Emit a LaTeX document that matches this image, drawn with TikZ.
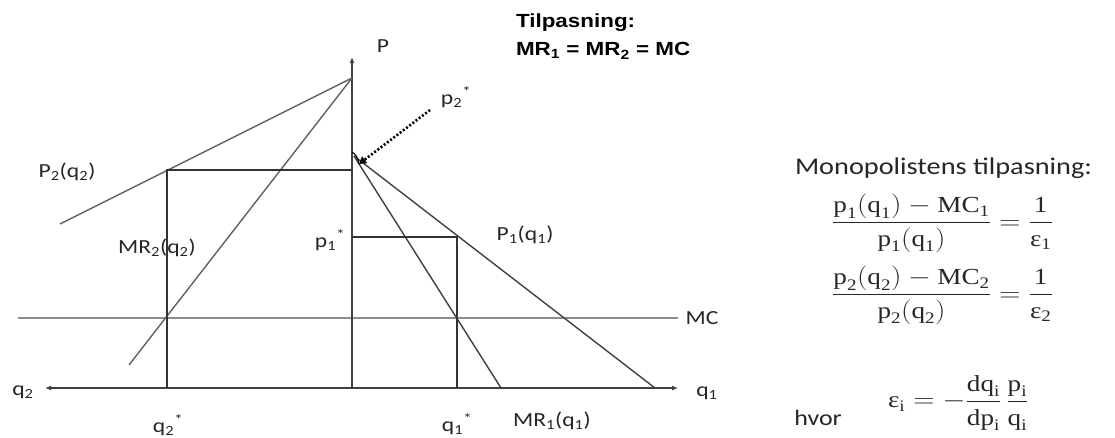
\documentclass[tikz,border=0pt]{standalone}
\usepackage{amsmath}
\usepackage{fontspec}
\setmainfont{Carlito}
\newfontfamily\arialfont{Liberation Sans}
\newfontfamily\tms{Liberation Serif}
\usetikzlibrary{arrows.meta}
\newcommand\hs[1]{\scalebox{1.18}[1]{#1}}
\newcommand\R[1]{\text{\tms #1}}
\begin{document}
\begin{tikzpicture}[x=1pt,y=-1pt,
  every node/.style={inner sep=0pt, outer sep=0pt},
  lab/.style={font=\fontsize{20}{22}\selectfont, text=black!85},
  axis/.style={line width=1.5pt, draw=black!75},
  curve/.style={line width=1.4pt, draw=black!62},
  guide/.style={line width=1.4pt, draw=black!80},
  mcline/.style={line width=2.8pt, draw=black!45},
  eq/.style={font=\fontsize{23}{26}\selectfont, text=black!85},
  tip/.style={-{Latex[length=6pt,width=5pt]}}]
\useasboundingbox (0,0) rectangle (1115,437);
% coordinates
\coordinate (O) at (352,388);
\coordinate (Ptop) at (352,57);
\coordinate (L) at (45,388);
\coordinate (R) at (678,388);
\coordinate (A) at (352,78);
\coordinate (P2end) at (60,224);
\coordinate (MR2end) at (129,365);
\coordinate (Q2) at (167,170);
\coordinate (Q2ax) at (167,388);
\coordinate (Pax2) at (352,170);
\coordinate (MCl) at (18,318);
\coordinate (MCr) at (678,318);
\coordinate (K) at (354,156);
\coordinate (P1end) at (655,388);
\coordinate (MR1end) at (501,388);
\coordinate (Q1) at (457,237);
\coordinate (Pax1) at (352,237);
\coordinate (Q1ax) at (457,388);
\coordinate (Dstart) at (430,110);
\coordinate (Dend) at (359,164);
\coordinate (H1) at (352,152);
% MC
\draw[mcline] (MCl) -- (MCr);
% axes
\draw[axis, tip] (O) -- (Ptop);
\draw[axis, {Latex[length=6pt,width=5pt]}-{Latex[length=6pt,width=5pt]}] (L) -- (R);
% market 2
\draw[curve] (A) -- (P2end);
\draw[curve] (A) -- (MR2end);
\draw[guide] (Pax2) -- (Q2) -- (Q2ax);
% market 1
\draw[curve, draw=black!75] (K) -- (P1end);
\draw[curve, draw=black!75] (K) -- (MR1end);
\draw[guide] (Pax1) -- (Q1) -- (Q1ax);
% p2* pointer
\draw[line width=1pt] (H1) .. controls (356,154) and (358,158) .. (Dend);
\draw[line width=2.6pt, dash pattern=on 2pt off 2pt, -{Triangle[length=7pt,width=8pt]}] (Dstart) -- (Dend);
% labels
\node[lab] (lP) at (383,46) {\hs{P}};
\node[lab] (lq2) at (23,392) {\hs{q\textsubscript{2}}};
\node[lab] (lq1) at (707,393) {\hs{q\textsubscript{1}}};
\node[lab] (lMC) at (702,318) {\hs{MC}};
\node[lab] (lP2) at (67,172) {\hs{P\textsubscript{2}(q\textsubscript{2})}};
\node[lab] (lMR2) at (157,248) {\hs{MR\textsubscript{2}(q\textsubscript{2})}};
\node[lab] (lp1) at (330,240) {\hs{p\textsubscript{1}\textsuperscript{*}}};
\node[lab] (lP1) at (525,235) {\hs{P\textsubscript{1}(q\textsubscript{1})}};
\node[lab] (lp2) at (456,97) {\hs{p\textsubscript{2}\textsuperscript{*}}};
\node[lab] (lq2s) at (168,425) {\hs{q\textsubscript{2}\textsuperscript{*}}};
\node[lab] (lq1s) at (457,424) {\hs{q\textsubscript{1}\textsuperscript{*}}};
\node[lab] (lMR1) at (552,421) {\hs{MR\textsubscript{1}(q\textsubscript{1})}};
% heading
\node[anchor=north west, align=left, font=\arialfont\bfseries\fontsize{19}{28}\selectfont] (head) at (516,14)
  {\hs{Tilpasning:}\\\hs{MR\textsubscript{1} = MR\textsubscript{2} = MC}};
% right block
\node[anchor=west, font=\fontsize{24}{26}\selectfont, text=black!85] (mono) at (795,168) {\hs{Monopolistens tilpasning:}};
\node[eq, anchor=west] (eq1) at (832,223) {\hs{$\dfrac{\R{p}_{\R{1}}(\R{q}_{\R{1}})-\R{MC}_{\R{1}}}{\R{p}_{\R{1}}(\R{q}_{\R{1}})}=\dfrac{\R{1}}{\R{ε}_{\R{1}}}$}};
\node[eq, anchor=west] (eq2) at (832,295) {\hs{$\dfrac{\R{p}_{\R{2}}(\R{q}_{\R{2}})-\R{MC}_{\R{2}}}{\R{p}_{\R{2}}(\R{q}_{\R{2}})}=\dfrac{\R{1}}{\R{ε}_{\R{2}}}$}};
\node[eq, anchor=west] (eq3) at (888,403) {\hs{$\R{ε}_{\R{i}}=-\dfrac{\R{dq}_{\R{i}}}{\R{dp}_{\R{i}}}\,\dfrac{\R{p}_{\R{i}}}{\R{q}_{\R{i}}}$}};
\node[lab, font=\fontsize{22}{24}\selectfont] (hvor) at (818,418) {\hs{hvor}};
\end{tikzpicture}
\end{document}
